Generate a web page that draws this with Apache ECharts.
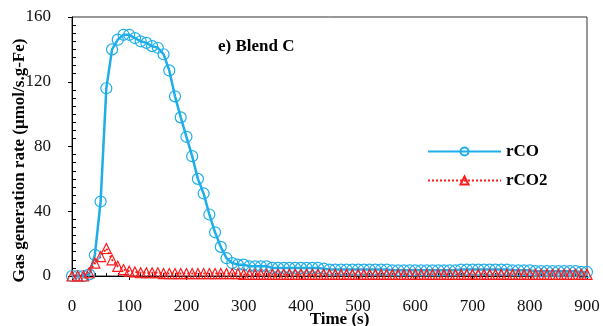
<!DOCTYPE html>
<html>
<head>
<meta charset="utf-8">
<script src="https://cdn.jsdelivr.net/npm/echarts@6/dist/echarts.min.js"></script>
<style>
  html, body { margin: 0; padding: 0; background: #fff; }
  #chart { width: 603px; height: 326px; }
</style>
</head>
<body>
<div id="chart"></div>
<script>
// Time axis (s)
const times = [
  0, 10, 20, 30, 40, 50, 60, 70, 80, 90,
  100, 110, 120, 130, 140, 150, 160, 170, 180, 190,
  200, 210, 220, 230, 240, 250, 260, 270, 280, 290,
  300, 310, 320, 330, 340, 350, 360, 370, 380, 390,
  400, 410, 420, 430, 440, 450, 460, 470, 480, 490,
  500, 510, 520, 530, 540, 550, 560, 570, 580, 590,
  600, 610, 620, 630, 640, 650, 660, 670, 680, 690,
  700, 710, 720, 730, 740, 750, 760, 770, 780, 790,
  800, 810, 820, 830, 840, 850, 860, 870, 880, 890,
  900
];

// rCO (umol/s.g-Fe)
const rCO = [
  0, 0, 0, 1, 13, 46, 116, 140, 146, 149,
  149, 147, 145, 144, 142, 141, 137, 127, 111, 98,
  86, 74, 60, 51, 38, 27, 18, 11, 8, 7,
  7, 6, 6, 6, 6, 5, 5, 5, 5, 5,
  5, 5, 5, 5, 4.5, 4, 4, 4, 4, 4,
  4, 4, 4, 4, 4, 4, 3.5, 3.5, 3.5, 3.5,
  3.5, 3.5, 3.5, 3.5, 3.5, 3.5, 3.5, 3.5, 4, 4,
  4, 4, 4, 4, 4, 4, 4, 3.5, 3.5, 3.5,
  3.5, 3, 3, 3, 3, 3, 3, 3, 3, 2.5,
  2.5
];

// rCO2 (umol/s.g-Fe)
const rCO2 = [
  0, 0, 0, 2, 8, 12, 17, 10, 6, 4,
  3, 2.5, 2, 2, 2, 2, 1.5, 1.5, 1.5, 1.5,
  1.5, 1.5, 1.5, 1.5, 1.5, 1.5, 1.5, 1.5, 1.5, 1.5,
  1, 1, 1, 1, 1, 1, 1, 1, 1, 1,
  1, 1, 1, 1, 1, 1, 1, 1, 1, 1,
  1, 1, 1, 1, 1, 1, 1, 1, 1, 1,
  1, 1, 1, 1, 1, 1, 1, 1, 1, 1,
  1, 1, 1, 1, 1, 1, 1, 1, 1, 1,
  1, 1, 1, 1, 1, 1, 1, 1, 1, 1,
  1
];

const serif = '"Liberation Serif", "DejaVu Serif", serif';
const blue = '#1eaee8';
const red = '#ff1a1a';

const chart = echarts.init(document.getElementById('chart'), null, { renderer: 'canvas' });

const option = {
  animation: false,
  backgroundColor: '#fff',
  title: {
    text: 'e) Blend C',
    left: 213,
    top: 33,
    textStyle: { fontFamily: serif, fontSize: 17, fontWeight: 'bold', color: '#000' }
  },
  legend: {
    orient: 'vertical',
    left: 422,
    top: 138,
    itemWidth: 73,
    itemHeight: 10,
    itemGap: 12,
    textStyle: { fontFamily: serif, fontSize: 17, fontWeight: 'bold', color: '#000' },
    data: ['rCO', 'rCO2']
  },
  grid: {
    left: 72, right: 16, top: 17, bottom: 50,
    outerBoundsMode: 'none',
    show: true, borderColor: '#333', borderWidth: 1
  },
  xAxis: [
    {
      type: 'value', min: 0, max: 900, interval: 100,
      name: 'Time (s)', nameLocation: 'middle', nameGap: 35, nameMoveOverlap: false,
      nameTextStyle: {
        fontFamily: serif, fontSize: 17, fontWeight: 'bold', color: '#000',
        padding: [0, 0, 0, 20]
      },
      axisLine: { lineStyle: { color: '#000', width: 1 } },
      axisTick: { inside: false, length: 4, lineStyle: { color: '#000' } },
      axisLabel: { margin: 22, fontFamily: serif, fontSize: 17, color: '#111' },
      splitLine: { show: false }
    },
    {
      type: 'value', min: 0, max: 900, interval: 100, position: 'bottom',
      axisLine: { show: false },
      axisTick: { show: false, inside: true },
      minorTick: { show: true, splitNumber: 5, length: 3, lineStyle: { color: '#000' } },
      axisLabel: { show: false },
      splitLine: { show: false }
    }
  ],
  yAxis: [
    {
      type: 'value', min: 0, max: 160, interval: 40,
      name: 'Gas generation rate (μmol/s.g-Fe)', nameLocation: 'middle', nameGap: 44,
      nameMoveOverlap: false,
      nameTextStyle: {
        fontFamily: serif, fontSize: 17, fontWeight: 'bold', color: '#000',
        padding: [0, 28, 0, 0]
      },
      axisLine: { show: true, lineStyle: { color: '#000', width: 1 } },
      axisTick: { show: true, inside: false, length: 4, lineStyle: { color: '#000' } },
      axisLabel: { margin: 21, fontFamily: serif, fontSize: 17, color: '#111' },
      splitLine: { show: false }
    },
    {
      type: 'value', min: 0, max: 160, interval: 40, position: 'left',
      axisLine: { show: false },
      axisTick: { show: false, inside: true },
      minorTick: { show: true, splitNumber: 8, length: 4, lineStyle: { color: '#000' } },
      axisLabel: { show: false },
      splitLine: { show: false }
    }
  ],
  series: [
    {
      name: 'rCO',
      type: 'line',
      clip: false,
      data: times.map((t, i) => [t, rCO[i]]),
      symbol: 'circle',
      symbolSize: 11,
      showAllSymbol: true,
      lineStyle: { color: blue, width: 2.5 },
      itemStyle: { color: 'rgba(255,255,255,0)', borderColor: blue, borderWidth: 1.2 }
    },
    {
      name: 'rCO2',
      type: 'line',
      clip: false,
      data: times.map((t, i) => [t, rCO2[i]]),
      symbol: 'triangle',
      symbolSize: 10,
      showAllSymbol: true,
      lineStyle: { color: red, width: 2, type: 'dotted' },
      itemStyle: { color: 'rgba(255,255,255,0)', borderColor: red, borderWidth: 1.2 }
    }
  ]
};

chart.setOption(option);
</script>
</body>
</html>
